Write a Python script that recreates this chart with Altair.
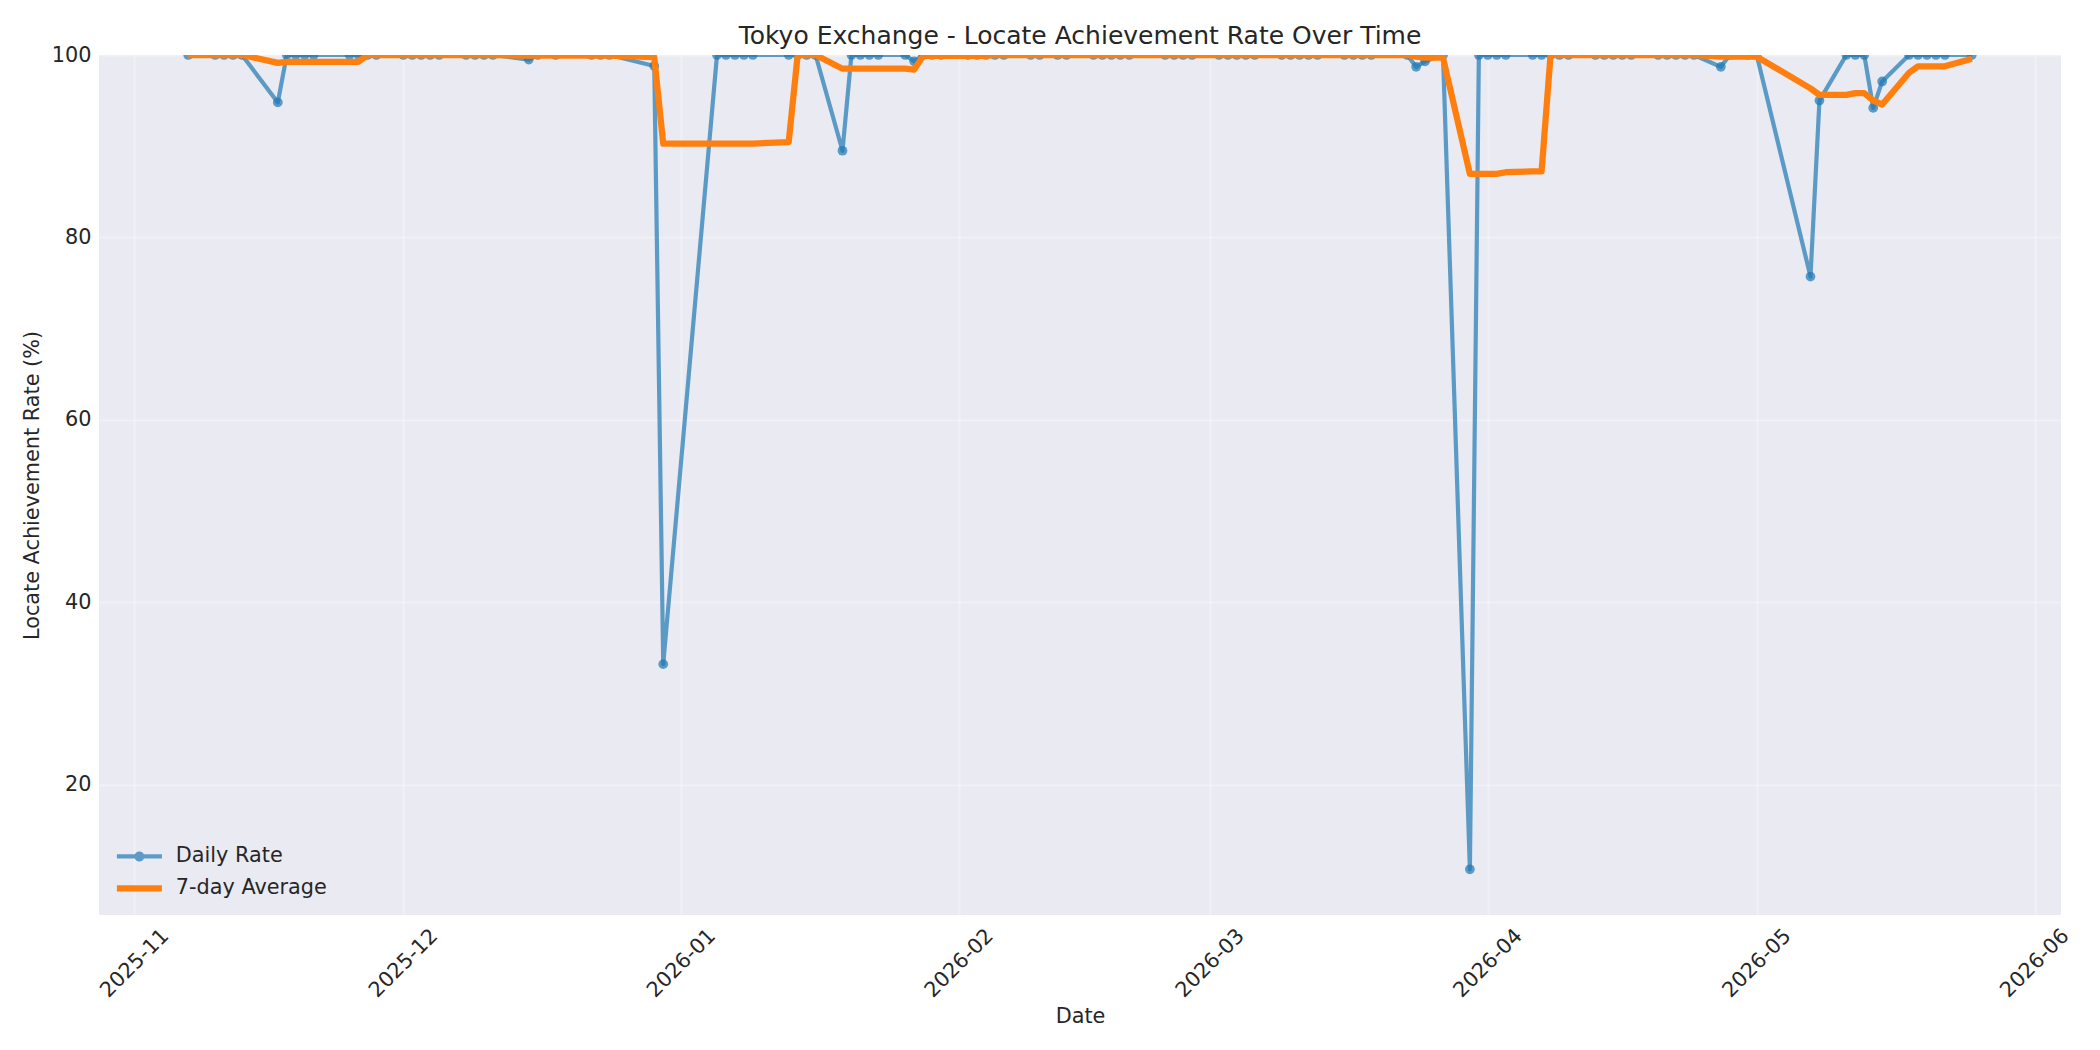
import altair as alt
import pandas as pd

# ---------------- data ----------------
dates = [
    "2025-11-07", "2025-11-10", "2025-11-11", "2025-11-12", "2025-11-13",
    "2025-11-17", "2025-11-18", "2025-11-19", "2025-11-20", "2025-11-21",
    "2025-11-25", "2025-11-26", "2025-11-27", "2025-11-28",
    "2025-12-01", "2025-12-02", "2025-12-03", "2025-12-04", "2025-12-05",
    "2025-12-08", "2025-12-09", "2025-12-10", "2025-12-11",
    "2025-12-15", "2025-12-16", "2025-12-18",
    "2025-12-22", "2025-12-23", "2025-12-24", "2025-12-29", "2025-12-30",
    "2026-01-05", "2026-01-06", "2026-01-07", "2026-01-08", "2026-01-09",
    "2026-01-13", "2026-01-14", "2026-01-15", "2026-01-16",
    "2026-01-19", "2026-01-20", "2026-01-21", "2026-01-22", "2026-01-23",
    "2026-01-26", "2026-01-27", "2026-01-28", "2026-01-29", "2026-01-30",
    "2026-02-02", "2026-02-03", "2026-02-04", "2026-02-05", "2026-02-06",
    "2026-02-09", "2026-02-10", "2026-02-12", "2026-02-13",
    "2026-02-16", "2026-02-17", "2026-02-18", "2026-02-19", "2026-02-20",
    "2026-02-24", "2026-02-25", "2026-02-26", "2026-02-27",
    "2026-03-02", "2026-03-03", "2026-03-04", "2026-03-05", "2026-03-06",
    "2026-03-09", "2026-03-10", "2026-03-11", "2026-03-12", "2026-03-13",
    "2026-03-16", "2026-03-17", "2026-03-18", "2026-03-19",
    "2026-03-23", "2026-03-24", "2026-03-25", "2026-03-27",
    "2026-03-30", "2026-03-31", "2026-04-01", "2026-04-02", "2026-04-03",
    "2026-04-06", "2026-04-07", "2026-04-08", "2026-04-09", "2026-04-10",
    "2026-04-13", "2026-04-14", "2026-04-15", "2026-04-16", "2026-04-17",
    "2026-04-20", "2026-04-21", "2026-04-22", "2026-04-23", "2026-04-24",
    "2026-04-27", "2026-04-28", "2026-04-30", "2026-05-01",
    "2026-05-07", "2026-05-08", "2026-05-11", "2026-05-12", "2026-05-13",
    "2026-05-14", "2026-05-15",
    "2026-05-18", "2026-05-19", "2026-05-20", "2026-05-21", "2026-05-22",
    "2026-05-25",
]
rates = [
    100, 100, 100, 100, 100,
    94.8, 100, 100, 100, 100,
    100, 100, 100, 100,
    100, 100, 100, 100, 100,
    100, 100, 100, 100,
    99.5, 100, 100,
    100, 100, 100, 98.8, 33.2,
    100, 100, 100, 100, 100,
    100, 100, 100, 100,
    89.5, 100, 100, 100, 100,
    100, 99.3, 100, 100, 100,
    100, 100, 100, 100, 100,
    100, 100, 100, 100,
    100, 100, 100, 100, 100,
    100, 100, 100, 100,
    100, 100, 100, 100, 100,
    100, 100, 100, 100, 100,
    100, 100, 100, 100,
    100, 98.7, 99.3, 100,
    10.7, 100, 100, 100, 100,
    100, 100, 100, 100, 100,
    100, 100, 100, 100, 100,
    100, 100, 100, 100, 100,
    98.7, 100, 100, 100,
    75.7, 95.0, 100, 100, 100,
    94.2, 97.1,
    100, 100, 100, 100, 100,
    100,
]
series_names = ["Daily Rate", "7-day Average"]
BLUE = "#1f77b4"
ORANGE = "#ff7f0e"
month_ticks = [(2025, 11), (2025, 12), (2026, 1), (2026, 2), (2026, 3),
               (2026, 4), (2026, 5), (2026, 6)]
y_ticks = [20, 40, 60, 80, 100]

df = pd.DataFrame({"date": dates, "rate": rates})
legend_df = pd.DataFrame({"series": series_names})

# ---------------- layout / style ----------------
FONT = "DejaVu Sans"
TXT = "#262626"
BG = "#EAEAF2"
PLOT_W, PLOT_H = 1962, 860

x_domain = [
    alt.DateTime(year=2025, month=10, date=28, hours=1, minutes=12, utc=True),
    alt.DateTime(year=2026, month=6, date=3, hours=22, minutes=48, utc=True),
]
x_enc = alt.X(
    "date:T",
    scale=alt.Scale(type="utc", domain=x_domain),
    axis=alt.Axis(
        values=[alt.DateTime(year=y, month=m, date=1, utc=True) for y, m in month_ticks],
        format="%Y-%m",
        labelAngle=315,
        labelAlign="center",
        labelBaseline="middle",
        labelPadding=48,
        labelOverlap=False,
        labelFlush=False,
        ticks=False,
        tickSize=0,
        domain=False,
        title="Date",
        titleY=101,
        titleBaseline="middle",
    ),
)
y_scale = alt.Scale(domain=[5.69, 100], nice=False, zero=False)
y_axis = alt.Axis(
    values=y_ticks,
    format="d",
    labelPadding=8,
    ticks=False,
    tickSize=0,
    domain=False,
    title="Locate Achievement Rate (%)",
    titleAngle=270,
    titleX=-67,
    titleY=PLOT_H / 2,
    titleAlign="center",
    titleBaseline="middle",
)

# legend symbols: custom paths (unit box scaled by sqrt(symbolSize)/2 = 9 px)
daily_symbol = ("M-2.5,-0.233H2.5V0.233H-2.5Z"
                "M0.556,0A0.556,0.556 0 1 1 -0.556,0A0.556,0.556 0 1 1 0.556,0Z")
avg_symbol = "M-2.5,-0.347H2.5V0.347H-2.5Z"

legend = alt.Legend(
    title=None,
    orient="none",
    legendX=30,
    legendY=791,
    direction="vertical",
    labelFont=FONT,
    labelFontSize=20.8,
    labelColor=TXT,
    symbolSize=324,
    symbolOpacity=1,
    symbolStrokeWidth=0,
    labelOffset=26,
    rowPadding=10,
    padding=0,
)

base = alt.Chart(df)

daily_line = base.mark_line(
    color=BLUE, strokeWidth=4.2, opacity=0.7, clip=True, strokeJoin="round"
).encode(x=x_enc, y=alt.Y("rate:Q", scale=y_scale, axis=y_axis))

daily_points = base.mark_circle(
    size=95, color=BLUE, opacity=0.7, clip=True
).encode(x=x_enc, y=alt.Y("rate:Q", scale=y_scale, axis=y_axis))

avg_line = base.transform_window(
    avg="mean(rate)", frame=[-6, 0], sort=[alt.SortField("date", order="ascending")]
).mark_line(
    color=ORANGE, strokeWidth=6.25, clip=True, strokeJoin="round"
).encode(x=x_enc, y=alt.Y("avg:Q", scale=y_scale, axis=y_axis))

legend_layer = alt.Chart(legend_df).mark_point(
    filled=True, opacity=0, size=1
).encode(
    x=alt.value(PLOT_W / 2),
    y=alt.value(PLOT_H / 2),
    color=alt.Color("series:N",
                    scale=alt.Scale(domain=series_names, range=["#5c9ac7", ORANGE]),
                    legend=legend),
    shape=alt.Shape("series:N",
                    scale=alt.Scale(domain=series_names, range=[daily_symbol, avg_symbol]),
                    legend=legend),
)

chart = (
    alt.layer(daily_line, daily_points, avg_line, legend_layer)
    .properties(
        width=PLOT_W,
        height=PLOT_H,
        autosize=alt.AutoSizeParams(type="none"),
        padding={"left": 91, "top": 47, "right": 31, "bottom": 127},
        view=alt.ViewBackground(fill=BG, strokeWidth=0),
        title=alt.Title(
            "Tokyo Exchange - Locate Achievement Rate Over Time",
            font=FONT,
            fontSize=25,
            fontWeight="normal",
            color=TXT,
            anchor="middle",
            frame="group",
            baseline="alphabetic",
            offset=12.5,
            dy=37,
        ),
    )
    .configure(background="white")
    .configure_view(fill=BG, strokeWidth=0)
    .configure_axis(
        labelFont=FONT,
        labelFontSize=20.8,
        labelColor=TXT,
        titleFont=FONT,
        titleFontSize=20.8,
        titleColor=TXT,
        titleFontWeight="normal",
        gridColor="white",
        gridOpacity=0.3,
        gridWidth=2,
    )
)

chart.save("out.html", embed_options={"renderer": "svg", "actions": False})
